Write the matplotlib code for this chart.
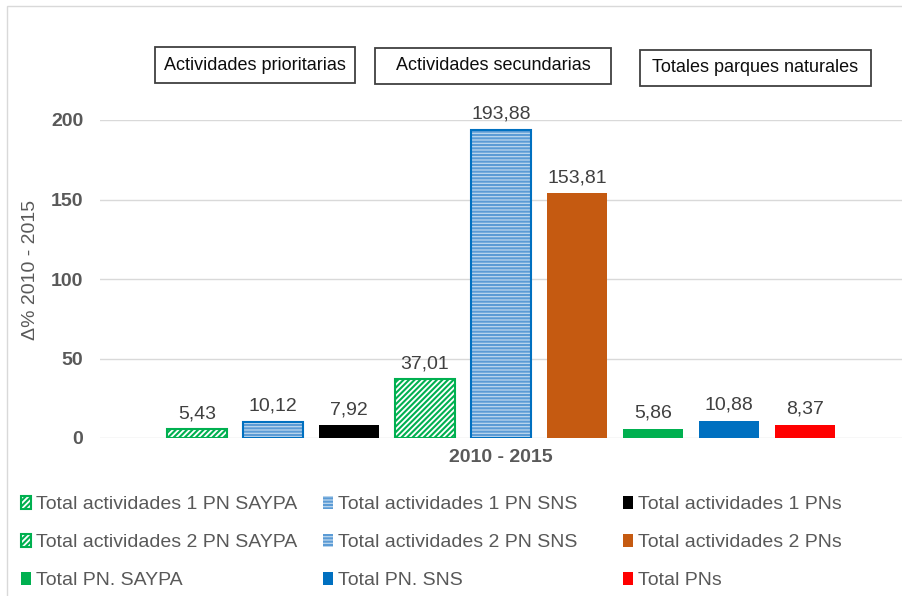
import numpy as np
import matplotlib
matplotlib.use('Agg')
import matplotlib.pyplot as plt
from matplotlib.patches import Rectangle

plt.rcParams['font.family'] = ['Liberation Sans', 'DejaVu Sans']
plt.rcParams['hatch.linewidth'] = 1.5

# data
labels = ['Total actividades 1 PN SAYPA', 'Total actividades 1 PN SNS', 'Total actividades 1 PNs',
          'Total actividades 2 PN SAYPA', 'Total actividades 2 PN SNS', 'Total actividades 2 PNs',
          'Total PN. SAYPA', 'Total PN. SNS', 'Total PNs']
values = [5.43, 10.12, 7.92, 37.01, 193.88, 153.81, 5.86, 10.88, 8.37]
group_titles = ['Actividades prioritarias', 'Actividades secundarias', 'Totales parques naturales']
yticks = [0, 50, 100, 150, 200]
xlabel = '2010 - 2015'
ylabel = '\u0394% 2010 - 2015'

green = '#00B050'
blue = '#0070C0'
styles = [
    dict(facecolor='white', edgecolor=green, hatch='//////', linewidth=1.5),
    dict(facecolor='#BDD7EE', edgecolor='#5B9BD5', hatch='-----', linewidth=0),
    dict(facecolor='black', edgecolor='black', linewidth=0),
    dict(facecolor='white', edgecolor=green, hatch='//////', linewidth=1.5),
    dict(facecolor='#BDD7EE', edgecolor='#5B9BD5', hatch='-----', linewidth=0),
    dict(facecolor='#C55A11', edgecolor='#C55A11', linewidth=0),
    dict(facecolor=green, edgecolor=green, linewidth=0),
    dict(facecolor=blue, edgecolor=blue, linewidth=0),
    dict(facecolor='#FF0000', edgecolor='#FF0000', linewidth=0),
]

txt = '#595959'
fig = plt.figure(figsize=(9.02, 5.96), dpi=100)
ax = fig.add_axes([100 / 902, 1 - 438 / 596, 802 / 902, 318 / 596])

x = np.arange(len(values))
handles = []
for i, (v, st) in enumerate(zip(values, styles)):
    b = ax.bar(x[i], v, width=0.8, label=labels[i], zorder=2, **st)
    if 'SNS' in labels[i] and 'actividades' in labels[i]:
        ax.bar(x[i], v, width=0.8, fill=False, edgecolor=blue, linewidth=1.5, zorder=3)
    handles.append(b)
    ax.annotate(('%.2f' % v).replace('.', ','), (x[i], v), xytext=(0, 5),
                textcoords='offset points', ha='center', va='bottom',
                fontsize=14, color='#404040')

ax.set_xlim(-1.276, 9.276)
ax.set_ylim(0, 200)
ax.set_yticks(yticks)
ax.set_yticklabels([str(t) for t in yticks], fontweight='bold', fontsize=14, color=txt)
ax.set_xticks([])
ax.tick_params(axis='y', length=0, pad=12)
ax.grid(axis='y', color='#D9D9D9', linewidth=1, zorder=0)
ax.set_axisbelow(True)
for s in ax.spines.values():
    s.set_visible(False)
ax.set_xlabel(xlabel, fontsize=14, fontweight='bold', color=txt, labelpad=8)
ax.set_ylabel(ylabel, fontsize=14, color=txt, labelpad=8)
ax.yaxis.set_label_coords(-61 / 802, 0.53)

# group boxes
boxes = [(155, 47, 200, 36), (375, 48, 236, 36), (640, 50, 231, 36)]
for (bx, by, bw, bh), t in zip(boxes, group_titles):
    fig.patches.append(Rectangle((bx / 902, 1 - (by + bh) / 596), bw / 902, bh / 596,
                                 transform=fig.transFigure, fill=False,
                                 edgecolor='#404040', linewidth=1.3))
    fig.text((bx + bw / 2) / 902, 1 - (by + bh / 2) / 596, t, ha='center', va='center',
             fontsize=13, color='#0D0D0D')

# outer frame
fig.patches.append(Rectangle((7 / 902, -0.05), 1.1, 1 - 6 / 596 + 0.05,
                             transform=fig.transFigure, fill=False,
                             edgecolor='#D9D9D9', linewidth=1))

# legend, one per column
col_x = [13, 315, 615]
for c in range(3):
    hs = [handles[c + 3 * r] for r in range(3)]
    ls = [labels[c + 3 * r] for r in range(3)]
    fig.legend(hs, ls, loc='upper left', bbox_to_anchor=(col_x[c] / 902, 1 - 488 / 596),
               frameon=False, fontsize=14, labelcolor=txt, handlelength=0.55,
               handleheight=0.7, handletextpad=0.25, labelspacing=1.05, borderaxespad=0)

fig.savefig('out.png', dpi=100)
